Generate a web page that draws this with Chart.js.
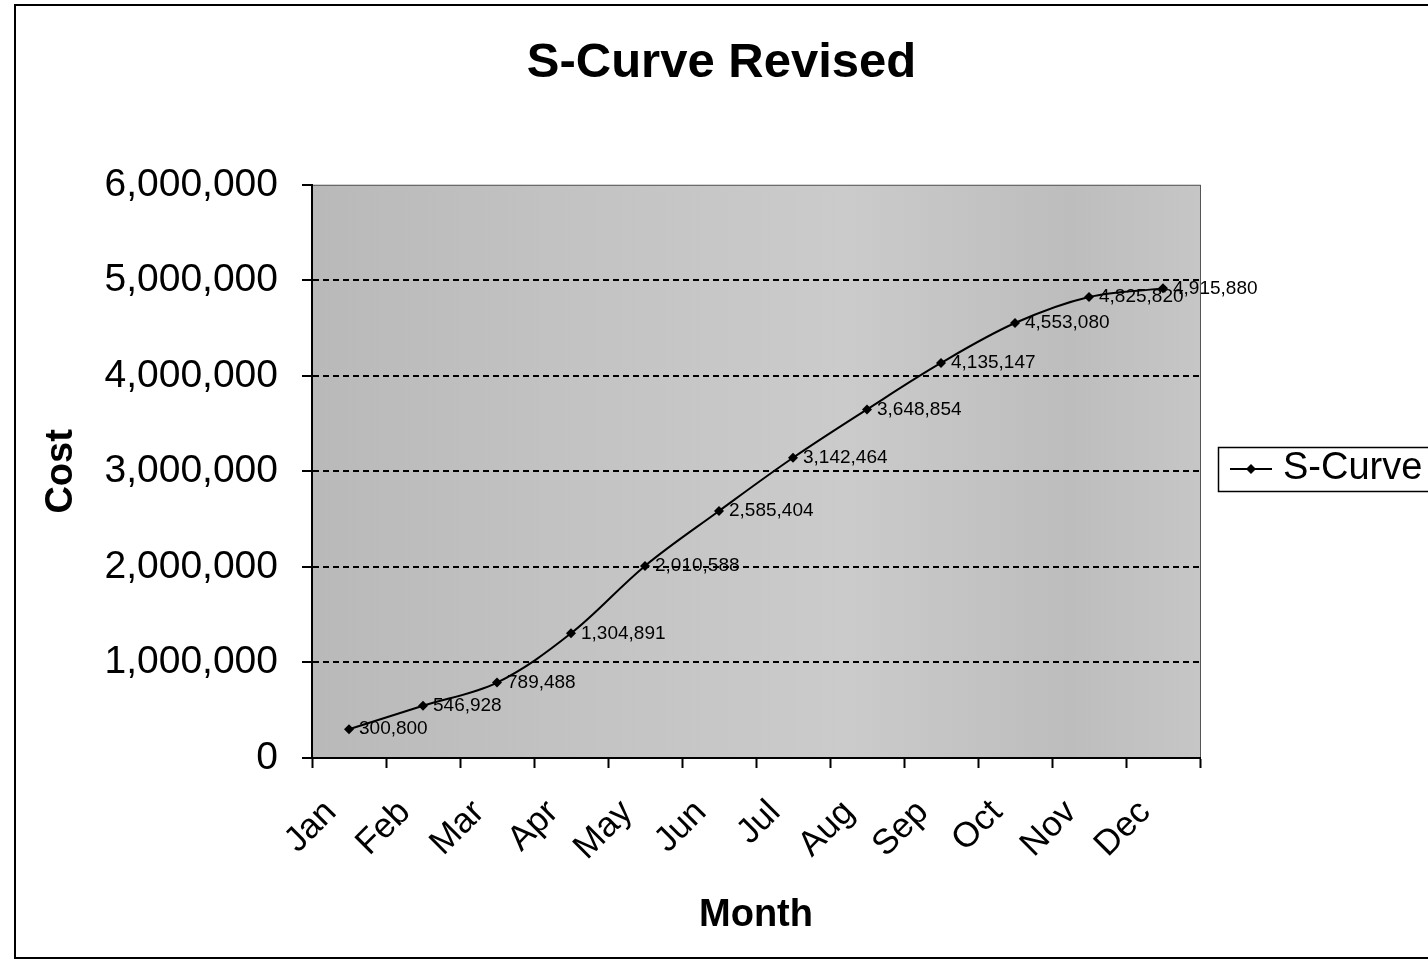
<!DOCTYPE html>
<html>
<head>
<meta charset="utf-8">
<title>S-Curve Revised</title>
<script src="https://cdn.jsdelivr.net/npm/chart.js@4.4.1/dist/chart.umd.min.js"></script>
<style>
  html, body { margin: 0; padding: 0; background: #fff; overflow: hidden; }
  #wrap { width: 1428px; height: 967px; }
</style>
</head>
<body>
<div id="wrap"><canvas id="myChart" width="1428" height="967"></canvas></div>
<script>
var FONT = 'Arial, "Liberation Sans", sans-serif';

// data
var months = ['Jan', 'Feb', 'Mar', 'Apr', 'May', 'Jun', 'Jul', 'Aug', 'Sep', 'Oct', 'Nov', 'Dec'];
var costs = [300800, 546928, 789488, 1304891, 2010588, 2585404, 3142464, 3648854, 4135147, 4553080, 4825820, 4915880];
var yTicks = [0, 1000000, 2000000, 3000000, 4000000, 5000000, 6000000];

function fmt(v) {
  return v.toLocaleString('en-US');
}

// gray plot background, outer frame, plot frame, point labels and legend
var frame = {
  id: 'frame',
  beforeDraw: function (chart) {
    var c = chart.ctx, a = chart.chartArea;
    c.save();
    c.fillStyle = '#fff';
    c.fillRect(0, 0, chart.width, chart.height);
    var g = c.createLinearGradient(a.left, 0, a.right, 0);
    g.addColorStop(0, '#b9b9b9');
    g.addColorStop(0.3, '#c3c3c3');
    g.addColorStop(0.6, '#cbcbcb');
    g.addColorStop(0.85, '#bdbdbd');
    g.addColorStop(1, '#c6c6c6');
    c.fillStyle = g;
    c.fillRect(a.left, a.top, a.right - a.left, a.bottom - a.top);
    c.strokeStyle = '#555';
    c.lineWidth = 1;
    c.strokeRect(a.left + 0.5, a.top + 0.5, a.right - a.left, a.bottom - a.top);
    c.strokeStyle = '#000';
    c.lineWidth = 2;
    c.strokeRect(15, 5, 1500, 953);
    c.restore();
  },
  afterDatasetsDraw: function (chart) {
    var c = chart.ctx;
    var meta = chart.getDatasetMeta(0);
    c.save();
    c.font = '19px ' + FONT;
    c.fillStyle = '#000';
    c.textAlign = 'left';
    c.textBaseline = 'middle';
    meta.data.forEach(function (pt, i) {
      c.fillText(fmt(costs[i]), pt.x + 10, pt.y);
    });

    // legend
    var lx = 1218, ly = 447;
    c.strokeStyle = '#000';
    c.lineWidth = 1.5;
    c.strokeRect(lx + 0.5, ly + 0.5, 260, 44);
    c.beginPath();
    c.moveTo(lx + 12, ly + 22);
    c.lineTo(lx + 54, ly + 22);
    c.lineWidth = 2;
    c.stroke();
    c.beginPath();
    c.moveTo(lx + 33, ly + 17);
    c.lineTo(lx + 38, ly + 22);
    c.lineTo(lx + 33, ly + 27);
    c.lineTo(lx + 28, ly + 22);
    c.closePath();
    c.fill();
    c.font = '38px ' + FONT;
    c.fillText(chart.data.datasets[0].label, lx + 65, ly + 22);
    c.restore();
  }
};

var ctx = document.getElementById('myChart').getContext('2d');
var myChart = new Chart(ctx, {
  type: 'line',
  data: {
    labels: months,
    datasets: [{
      label: 'S-Curve',
      data: costs,
      borderColor: '#000',
      borderWidth: 2,
      backgroundColor: '#000',
      pointStyle: 'rectRot',
      pointRadius: 5,
      pointBorderWidth: 0,
      pointBackgroundColor: '#000',
      tension: 0.35,
      fill: false
    }]
  },
  options: {
    responsive: false,
    animation: false,
    devicePixelRatio: 1,
    layout: { padding: { left: 15, right: 0, top: 0, bottom: 27 } },
    plugins: {
      legend: { display: false },
      tooltip: { enabled: false },
      title: {
        display: true,
        text: 'S-Curve Revised',
        color: '#000',
        font: { family: FONT, size: 49, weight: 'bold' },
        padding: { top: 34, bottom: 92 }
      }
    },
    scales: {
      x: {
        offset: true,
        afterFit: function (s) { s.height = 182; },
        grid: {
          offset: true,
          color: 'rgba(0,0,0,0)',
          tickColor: '#000',
          tickLength: 10,
          tickWidth: 2
        },
        border: { display: true, color: '#000', width: 2 },
        ticks: {
          color: '#000',
          font: { family: FONT, size: 35 },
          minRotation: 45,
          maxRotation: 45,
          padding: 24,
          labelOffset: -18,
          autoSkip: false
        },
        title: {
          display: true,
          text: 'Month',
          color: '#000',
          font: { family: FONT, size: 38, weight: 'bold' },
          padding: { top: 4, bottom: 2 }
        }
      },
      y: {
        min: 0,
        max: 6000000,
        afterFit: function (s) { s.width = 297; },
        afterBuildTicks: function (s) {
          s.ticks = yTicks.map(function (v) { return { value: v }; });
        },
        grid: {
          color: function (c) {
            var v = c.tick ? c.tick.value : 0;
            return (v > 0 && v < 6000000) ? '#000' : 'rgba(0,0,0,0)';
          },
          lineWidth: 2,
          tickColor: '#000',
          tickLength: 10,
          tickWidth: 2
        },
        border: { display: true, color: '#000', width: 2, dash: [6, 4] },
        ticks: {
          color: '#000',
          font: { family: FONT, size: 39 },
          padding: 24,
          callback: function (v) { return fmt(v); }
        },
        title: {
          display: true,
          text: 'Cost',
          color: '#000',
          font: { family: FONT, size: 38, weight: 'bold' },
          padding: { top: 24, bottom: 4 }
        }
      },
      // empty right-hand scale keeps room for the legend
      legendRoom: {
        position: 'right',
        afterFit: function (s) { s.width = 228; },
        grid: { display: false },
        border: { display: false },
        ticks: { display: false }
      }
    }
  },
  plugins: [frame]
});
</script>
</body>
</html>
